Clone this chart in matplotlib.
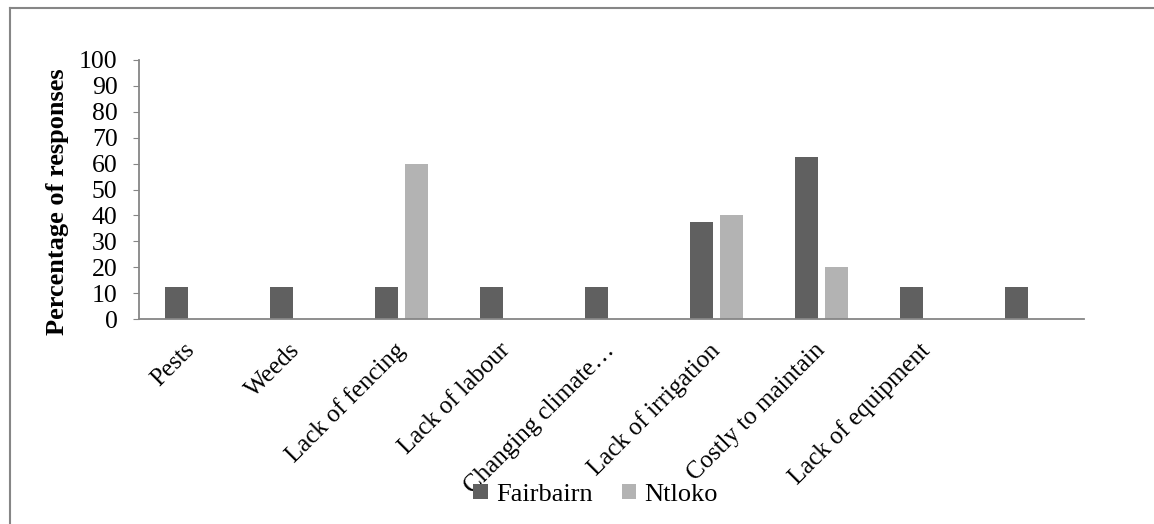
import numpy as np
import matplotlib.pyplot as plt
from matplotlib.lines import Line2D

plt.rcParams['font.family'] = ['Liberation Serif', 'DejaVu Serif']

categories = ["Pests", "Weeds", "Lack of fencing", "Lack of labour",
              "Changing climate\u2026", "Lack of irrigation",
              "Costly to maintain", "Lack of equipment", ""]
fairbairn = [12.5, 12.5, 12.5, 12.5, 12.5, 37.5, 62.5, 12.5, 12.5]
ntloko = [0, 0, 60, 0, 0, 40, 20, 0, 0]

dark = "#606060"
light = "#b3b3b3"
axis_grey = "#868686"

fig = plt.figure(figsize=(11.54, 5.24), dpi=100)
ax = fig.add_axes([0.1205, 0.3912, 0.8188, 0.4943])

x = np.arange(len(categories))
w = 0.22
ax.bar(x - 0.143, fairbairn, w, color=dark, label="Fairbairn")
ax.bar(x + 0.143, ntloko, w, color=light, label="Ntloko")

ax.set_xlim(-0.5, len(categories) - 0.5)
ax.set_ylim(0, 100)
ax.set_yticks(range(0, 101, 10))
ax.set_xticks(x)
ax.set_xticklabels(categories, rotation=45, ha="right", va="center",
                   rotation_mode="anchor", fontsize=18)
ax.tick_params(axis="x", length=0, pad=20)
ax.tick_params(axis="y", length=4.5, color=axis_grey, labelsize=18.5, pad=11)

for s in ["top", "right"]:
    ax.spines[s].set_visible(False)
for s in ["left", "bottom"]:
    ax.spines[s].set_color(axis_grey)
    ax.spines[s].set_linewidth(1.3)

ax.set_ylabel("Percentage of responses", fontsize=19, fontweight="bold")
ax.yaxis.set_label_coords(-0.074, 0.452)

leg = fig.legend(loc="center", bbox_to_anchor=(0.516, 0.056), ncol=2,
                 frameon=False, fontsize=19,
                 handlelength=0.55, handleheight=0.55, handletextpad=0.3,
                 columnspacing=1.1)
for t in leg.get_texts():
    t.set_fontfamily("Liberation Serif")

# outer frame of the chart area (left and top edges)
fig.add_artist(Line2D([10 / 1154, 10 / 1154], [0, 1 - 8 / 524],
                      transform=fig.transFigure, color=axis_grey, lw=1.5))
fig.add_artist(Line2D([10 / 1154, 1], [1 - 8 / 524, 1 - 8 / 524],
                      transform=fig.transFigure, color=axis_grey, lw=1.5))

fig.savefig("out.png", dpi=100)
